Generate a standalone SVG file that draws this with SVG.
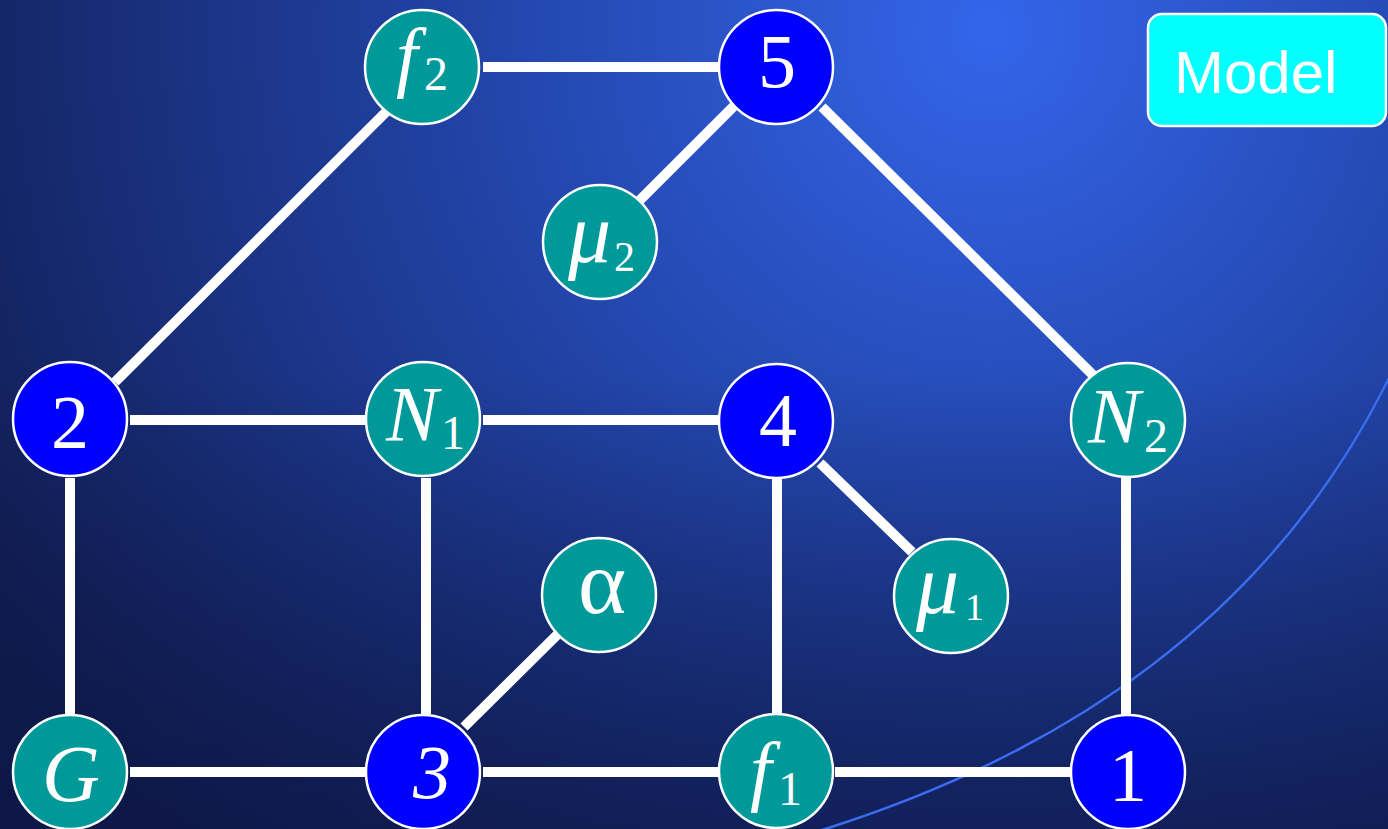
<svg xmlns="http://www.w3.org/2000/svg" width="1388" height="829" viewBox="0 0 1388 829">
<defs>
<radialGradient id="bg" gradientUnits="userSpaceOnUse" cx="990" cy="30" r="1150">
<stop offset="0" stop-color="#3465ea"/>
<stop offset="0.45" stop-color="#2244a8"/>
<stop offset="0.8" stop-color="#172b72"/>
<stop offset="1" stop-color="#111d52"/>
</radialGradient>
<linearGradient id="shade" x1="0" y1="0" x2="0" y2="1">
<stop offset="0" stop-color="#0c1440" stop-opacity="0"/>
<stop offset="0.45" stop-color="#0c1440" stop-opacity="0"/>
<stop offset="1" stop-color="#0c1440" stop-opacity="0.6"/>
</linearGradient>
</defs>
<style>
.edge{stroke:#ffffff;stroke-width:10;fill:none}
.t{fill:#009999;stroke:#ffffff;stroke-width:2.5}
.b{fill:#0000ff;stroke:#ffffff;stroke-width:2.5}
.lbl{font-family:"Liberation Serif","Times New Roman",serif;fill:#ffffff}
.it{font-style:italic}
.m{font-size:78px}
.d{font-size:76px}
.s{font-size:48px;font-style:normal}
</style>
<rect x="0" y="0" width="1388" height="829" fill="url(#bg)"/>
<rect x="0" y="0" width="1388" height="829" fill="url(#shade)"/>
<path d="M 822 830 C 1060 755 1270 620 1390 376" fill="none" stroke="#3a6cf0" stroke-width="2.5"/>
<g id="connectors">
<line class="edge" x1="483" y1="67" x2="718" y2="67"/>
<line class="edge" x1="115" y1="382" x2="390" y2="108"/>
<line class="edge" x1="735" y1="105" x2="638" y2="202"/>
<line class="edge" x1="822" y1="107" x2="1098" y2="380"/>
<line class="edge" x1="130" y1="420" x2="365" y2="420"/>
<line class="edge" x1="483" y1="420" x2="718" y2="420"/>
<line class="edge" x1="70" y1="478" x2="70" y2="714"/>
<line class="edge" x1="426" y1="478" x2="426" y2="714"/>
<line class="edge" x1="464" y1="727" x2="558" y2="634"/>
<line class="edge" x1="777" y1="478" x2="777" y2="714"/>
<line class="edge" x1="820" y1="463" x2="912" y2="552"/>
<line class="edge" x1="1126" y1="478" x2="1126" y2="714"/>
<line class="edge" x1="130" y1="772" x2="365" y2="772"/>
<line class="edge" x1="483" y1="772" x2="718" y2="772"/>
<line class="edge" x1="835" y1="772" x2="1070" y2="772"/>
</g>
<g id="node-f2"><circle class="t" cx="422" cy="67" r="57"/><text class="lbl it m" x="396" y="82">f<tspan class="s" x="424" y="90">2</tspan></text></g>
<g id="node-5"><circle class="b" cx="776" cy="67" r="57"/><text class="lbl d" x="777" y="87" text-anchor="middle">5</text></g>
<g id="node-mu2"><circle class="t" cx="600" cy="242" r="57"/><text class="lbl it" style="font-size:86px" x="568" y="262">μ<tspan class="s" style="font-size:42px" x="614" y="271">2</tspan></text></g>
<g id="node-2"><circle class="b" cx="70" cy="419" r="57"/><text class="lbl d" x="70" y="448" text-anchor="middle">2</text></g>
<g id="node-N1"><circle class="t" cx="423" cy="419" r="57"/><text class="lbl it m" x="386" y="440">N<tspan class="s" x="441" y="449">1</tspan></text></g>
<g id="node-4"><circle class="b" cx="776" cy="421" r="57"/><text class="lbl d" x="778" y="446" text-anchor="middle">4</text></g>
<g id="node-N2"><circle class="t" cx="1128" cy="420" r="57"/><text class="lbl it m" x="1088" y="442">N<tspan class="s" x="1144" y="452">2</tspan></text></g>
<g id="node-alpha"><circle class="t" cx="599" cy="595" r="57"/><text class="lbl" style="font-size:92px" x="602" y="613" text-anchor="middle">α</text></g>
<g id="node-mu1"><circle class="t" cx="951" cy="596" r="57"/><text class="lbl it" style="font-size:86px" x="916" y="613">μ<tspan class="s" style="font-size:38px" x="965" y="620">1</tspan></text></g>
<g id="node-G"><circle class="t" cx="70" cy="772" r="57"/><text class="lbl it" style="font-size:80px" x="42" y="801">G</text></g>
<g id="node-3"><circle class="b" cx="423" cy="772" r="57"/><text class="lbl it d" x="432" y="798" text-anchor="middle">3</text></g>
<g id="node-f1"><circle class="t" cx="776" cy="771" r="57"/><text class="lbl it m" x="750" y="796">f<tspan class="s" x="778" y="805">1</tspan></text></g>
<g id="node-1"><circle class="b" cx="1128" cy="772" r="57"/><text class="lbl d" x="1128" y="801" text-anchor="middle">1</text></g>
<g id="model">
<rect x="1148" y="14" width="238" height="112" rx="14" fill="#00ffff" stroke="#ffffff" stroke-width="2.5"/>
<text x="1174" y="93" font-family="'Liberation Sans',Arial,sans-serif" font-size="60" fill="#ffffff">Model</text>
</g>
</svg>
